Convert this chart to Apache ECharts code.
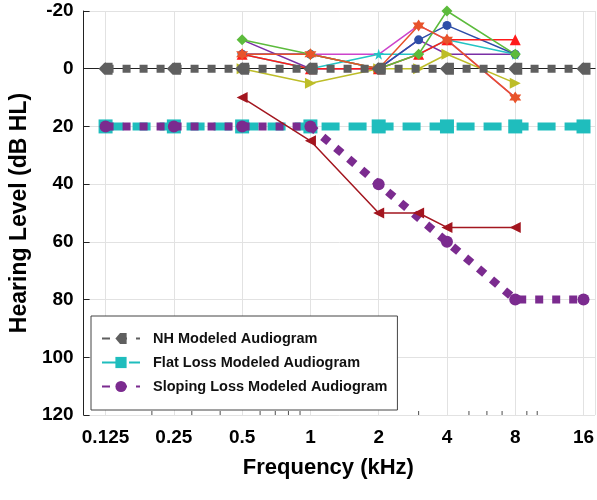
<!DOCTYPE html>
<html><head><meta charset="utf-8">
<script src="https://cdn.jsdelivr.net/npm/echarts@6/dist/echarts.min.js"></script>
<style>html,body{margin:0;padding:0;background:#fff}#c{width:597px;height:500px}</style>
</head><body><div id="c"></div>
<script>
// ---- data ----
const modelFreqs = [0.125, 0.25, 0.5, 1, 2, 4, 8, 16];
const nhModel = [0, 0, 0, 0, 0, 0, 0, 0];
const flatModel = [20, 20, 20, 20, 20, 20, 20, 20];
const slopingModel = [20, 20, 20, 20, 40, 60, 80, 80];

const subjFreqs = [0.5, 1, 2, 3, 4, 8];
const subjGreen = [-10, -5, 0, -5, -20, -5];
const subjOrange = [-5, -5, 0, -15, -10, 10];
const subjBlue = [-5, -5, 0, -10, -15, -5];
const subjRed = [-5, 0, 0, -5, -10, -10];
const subjCyan = [-5, 0, -5, -5, -10, -5];
const subjYellow = [0, 5, 0, 0, -5, 5];
const subjMagenta = [-5, -5, -5, -15, -10, 10];
const subjPurple = [-10, 0, 0, -10, -5, -5];
const subjDarkRed = [10, 25, 50, 50, 55, 55];

const minorTickFreqs = [0.2, 0.3, 0.4, 0.6, 0.7, 0.8, 0.9, 3, 5, 6, 7, 9, 10];

// ---- helpers ----
const zip = (xs, ys) => xs.map((x, i) => [x, ys[i]]);
const FONT = '"Liberation Sans", Arial, sans-serif';
const hexagram = 'path://M50,0 L64,25 L93,25 L78,50 L93,75 L64,75 L50,100 L36,75 L7,75 L22,50 L7,25 L36,25 Z';
const pentagram = 'path://M50,0 L61,35 L98,35 L68,57 L79,92 L50,70 L21,92 L32,57 L2,35 L39,35 Z';
const nhMarker = 'path://M0,6 L5,0 L12,0 L12,12 L5,12 Z';

function subj(name, data, color, symbol, size, rotate) {
  return {
    name: name, type: 'line', data: zip(subjFreqs, data), z: 2,
    symbol: symbol, symbolSize: size, symbolRotate: rotate || 0,
    lineStyle: { color: color, width: 1.5 },
    itemStyle: { color: color },
    showSymbol: symbol !== 'none'
  };
}

const chart = echarts.init(document.getElementById('c'), null, { renderer: 'canvas' });
chart.setOption({
  animation: false,
  backgroundColor: '#fff',
  textStyle: { fontFamily: FONT },
  grid: { left: 80, top: 11, right: 0, bottom: 85 },
  xAxis: {
    type: 'log', logBase: 2, min: 0.1, max: 18,
    name: 'Frequency (kHz)', nameLocation: 'middle', nameGap: 42,
    nameTextStyle: { fontSize: 22, fontWeight: 'bold', color: '#000', fontFamily: FONT, padding: [0, 22, 0, 0] },
    axisLine: { show: true, lineStyle: { color: '#222', width: 1 } },
    axisTick: { show: true, inside: true, length: 6, lineStyle: { color: '#222' } },
    axisLabel: {
      fontSize: 19, fontWeight: 'bold', color: '#000', margin: 13, fontFamily: FONT,
      showMinLabel: false, showMaxLabel: false,
      formatter: v => String(Number(v.toPrecision(6)))
    },
    splitLine: { show: true, lineStyle: { color: '#e2e2e2', width: 1 } }
  },
  yAxis: {
    type: 'value', inverse: true, min: -20, max: 120, interval: 20,
    name: 'Hearing Level (dB HL)', nameLocation: 'middle', nameGap: 47, nameRotate: 90,
    nameTextStyle: { fontSize: 23, fontWeight: 'bold', color: '#000', fontFamily: FONT },
    axisLine: { show: true, lineStyle: { color: '#222', width: 1 } },
    axisTick: { show: true, inside: true, length: 6, lineStyle: { color: '#222' } },
    axisLabel: { fontSize: 19, fontWeight: 'bold', color: '#000', margin: 10, fontFamily: FONT },
    splitLine: { show: true, lineStyle: { color: '#e2e2e2', width: 1 } }
  },
  legend: {
    data: ['NH Modeled Audiogram', 'Flat Loss Modeled Audiogram', 'Sloping Loss Modeled Audiogram'],
    orient: 'vertical', left: 91, top: 316,
    padding: [15, 10, 16, 10], itemGap: 9, itemWidth: 38, itemHeight: 14,
    borderColor: '#444', borderWidth: 1, backgroundColor: '#fff',
    textStyle: { fontSize: 14.5, fontWeight: 'bold', color: '#111', fontFamily: FONT, padding: [0, 0, 0, 8] }
  },
  series: [
    subj('s_magenta', subjMagenta, '#cc44cc', 'none', 0),
    subj('s_purple', subjPurple, '#7a2fa5', 'none', 0),
    subj('s_yellow', subjYellow, '#bdbd28', 'triangle', 11, -90),
    subj('s_cyan', subjCyan, '#23c4c4', pentagram, 11),
    subj('s_blue', subjBlue, '#2e4ea8', 'circle', 9),
    subj('s_red', subjRed, '#ff1a1a', 'triangle', 11),
    subj('s_green', subjGreen, '#5cbb3c', 'diamond', 11),
    subj('s_orange', subjOrange, '#e8532b', hexagram, 12),
    {
      name: 'NH Modeled Audiogram', type: 'line', data: zip(modelFreqs, nhModel), z: 4,
      symbol: nhMarker, symbolSize: [14, 12],
      lineStyle: { color: '#5f5f5f', width: 8, type: [8, 9], cap: 'butt' },
      itemStyle: { color: '#5f5f5f' }
    },
    {
      name: 'Flat Loss Modeled Audiogram', type: 'line', data: zip(modelFreqs, flatModel), z: 4,
      symbol: 'rect', symbolSize: 14,
      lineStyle: { color: '#1fbdbd', width: 8, type: [18, 9], cap: 'butt' },
      itemStyle: { color: '#1fbdbd' }
    },
    {
      name: 'Sloping Loss Modeled Audiogram', type: 'line', data: zip(modelFreqs, slopingModel), z: 5,
      symbol: 'circle', symbolSize: 12,
      lineStyle: { color: '#7b2b8f', width: 8, type: [8, 9], cap: 'butt' },
      itemStyle: { color: '#7b2b8f' }
    },
    {
      name: 's_darkred', type: 'line', data: zip(subjFreqs, subjDarkRed), z: 6,
      symbol: 'triangle', symbolRotate: 90, symbolSize: 11,
      lineStyle: { color: '#a3161f', width: 1.5 },
      itemStyle: { color: '#a3161f' }
    },
    {
      name: 'minorTicks', type: 'scatter', silent: true, z: 3,
      data: minorTickFreqs.map(f => [f, 120]),
      symbol: 'rect', symbolSize: [1, 4], symbolOffset: [0, -2],
      itemStyle: { color: '#222' }
    }
  ]
});
</script></body></html>
